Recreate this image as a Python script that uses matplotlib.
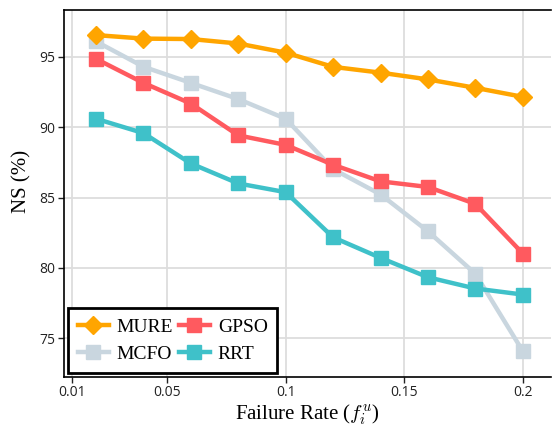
import matplotlib.pyplot as plt
import numpy as np

plt.rcParams['mathtext.fontset'] = 'cm'

rates = [0.02, 0.04, 0.06, 0.08, 0.10, 0.12, 0.14, 0.16, 0.18, 0.20]
mure = [96.55, 96.3, 96.27, 95.95, 95.3, 94.29, 93.88, 93.4, 92.8, 92.16]
gpso = [94.86, 93.15, 91.68, 89.42, 88.74, 87.33, 86.15, 85.75, 84.55, 81.02]
mcfo = [96.1, 94.3, 93.15, 92.0, 90.6, 87.02, 85.22, 82.6, 79.58, 74.08]
rrt = [90.6, 89.58, 87.42, 86.0, 85.38, 82.17, 80.71, 79.33, 78.53, 78.1]
xticks = [0.01, 0.05, 0.1, 0.15, 0.2]
xtick_labels = ['0.01', '0.05', '0.1', '0.15', '0.2']
yticks = [75, 80, 85, 90, 95]

fig = plt.figure(figsize=(5.52, 4.37), dpi=100)
ax = fig.add_axes([0.116, 0.138, 0.883, 0.838])

lw = 3.2
ms = 9.5
ax.plot(rates, mure, color='#FFA500', marker='D', lw=lw, ms=ms, label='MURE', zorder=5)
ax.plot(rates, mcfo, color='#C9D6DF', marker='s', lw=lw, ms=ms, label='MCFO', zorder=3)
ax.plot(rates, gpso, color='#FF5A5F', marker='s', lw=lw, ms=ms, label='GPSO', zorder=4)
ax.plot(rates, rrt, color='#3FC1C9', marker='s', lw=lw, ms=ms, label='RRT', zorder=4)

ax.set_xlim(0.0065, 0.2121)
ax.set_ylim(72.26, 98.3)
ax.set_xticks(xticks)
ax.set_xticklabels(xtick_labels)
ax.set_yticks(yticks)
ax.grid(True, color='#dddddd', lw=1.3)
ax.set_axisbelow(True)
for lab in ax.get_xticklabels() + ax.get_yticklabels():
    lab.set_fontfamily('Open Sans')
    lab.set_fontsize(10)
ax.tick_params(direction='out', length=4, width=1, pad=2, colors='#222222')
for s in ['left', 'bottom', 'top']:
    ax.spines[s].set_linewidth(1.2)
ax.spines['right'].set_visible(False)

ax.set_xlabel('Failure Rate ($f_i^u$)', fontfamily='Liberation Serif', fontsize=15, labelpad=2)
ax.set_ylabel('NS (%)', fontfamily='Liberation Serif', fontsize=15)
ax.yaxis.set_label_coords(-0.067, 0.532)

leg = ax.legend(loc='lower left', ncol=2, fancybox=False, framealpha=1,
                edgecolor='black', prop={'family': 'Liberation Serif', 'size': 14},
                borderaxespad=0.2, handlelength=1.6, columnspacing=0.3,
                handletextpad=0.4, borderpad=0.5, labelspacing=0.5)
leg.get_frame().set_linewidth(2)

fig.savefig('out.png', dpi=100)
